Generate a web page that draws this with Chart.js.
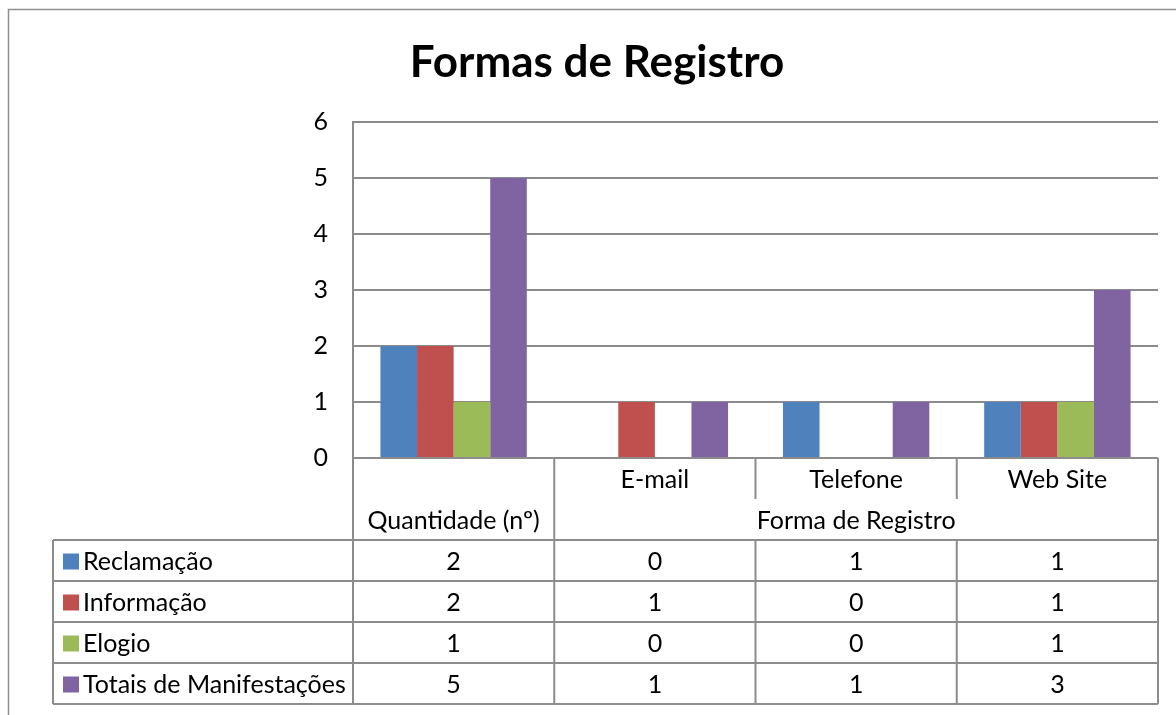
<!DOCTYPE html>
<html>
<head>
<meta charset="utf-8">
<script src="https://cdn.jsdelivr.net/npm/chart.js@4.4.1/dist/chart.umd.min.js"></script>
<style>
  html, body { margin: 0; padding: 0; background: #fff; }
  #wrap { width: 1176px; height: 715px; position: relative; }
</style>
</head>
<body>
<div id="wrap"><canvas id="c" width="1176" height="715"></canvas></div>
<script>
const chartTitle = 'Formas de Registro';
const categories = ['', 'E-mail', 'Telefone', 'Web Site'];
const groupLabels = ['Quantidade (nº)', 'Forma de Registro', 'Forma de Registro', 'Forma de Registro'];
const seriesNames = ['Reclamação', 'Informação', 'Elogio', 'Totais de Manifestações'];
const reclamacao = [2, 0, 1, 1];
const informacao = [2, 1, 0, 1];
const elogio = [1, 0, 0, 1];
const totais = [5, 1, 1, 3];
const yTicks = [0, 1, 2, 3, 4, 5, 6];

const colors = ['#4F81BD', '#C0504D', '#9BBB59', '#8064A2'];
const seriesValues = [reclamacao, informacao, elogio, totais];
const FONT = 'Lato, "Open Sans", sans-serif';
const LINE = '#8c8c8c';

const tablePlugin = {
  id: 'dataTable',
  afterDraw(chart) {
    const ctx = chart.ctx;
    const xs = chart.scales.x;
    const area = chart.chartArea;
    const n = categories.length;
    const catW = (area.right - area.left) / n;
    const colL = i => xs.getPixelForValue(i) - catW / 2;
    const colR = i => xs.getPixelForValue(i) + catW / 2;
    const rowH = 41;
    const y0 = area.bottom;
    const yH1 = y0 + rowH;
    const yH2 = y0 + 2 * rowH;
    const labelLeft = 53;
    const yEnd = yH2 + seriesNames.length * rowH;

    ctx.save();
    // outer frame of the chart object
    ctx.strokeStyle = '#8f8f8f';
    ctx.lineWidth = 1.5;
    ctx.beginPath();
    ctx.moveTo(8.5, 715);
    ctx.lineTo(8.5, 9.5);
    ctx.lineTo(1176, 9.5);
    ctx.stroke();

    // title
    ctx.fillStyle = '#000';
    ctx.font = 'bold 44px ' + FONT;
    ctx.textAlign = 'center';
    ctx.textBaseline = 'alphabetic';
    ctx.fillText(chartTitle, 597, 77);

    ctx.strokeStyle = LINE;
    ctx.lineWidth = 2;
    ctx.beginPath();
    for (let r = 0; r <= seriesNames.length; r++) {
      const y = yH2 + r * rowH;
      ctx.moveTo(labelLeft, y);
      ctx.lineTo(colR(n - 1), y);
    }
    ctx.moveTo(labelLeft, yH2);
    ctx.lineTo(labelLeft, yEnd);
    ctx.moveTo(colL(0), y0);
    ctx.lineTo(colL(0), yEnd);
    ctx.moveTo(colR(n - 1), y0);
    ctx.lineTo(colR(n - 1), yEnd);
    for (let i = 1; i < n; i++) {
      const x = colL(i);
      const groupBreak = groupLabels[i] !== groupLabels[i - 1];
      ctx.moveTo(x, y0);
      ctx.lineTo(x, groupBreak ? yEnd : yH1);
      if (!groupBreak) {
        ctx.moveTo(x, yH2);
        ctx.lineTo(x, yEnd);
      }
    }
    ctx.stroke();

    ctx.fillStyle = '#000';
    ctx.font = '25px ' + FONT;
    ctx.textAlign = 'center';
    ctx.textBaseline = 'middle';
    for (let i = 0; i < n; i++) {
      if (categories[i]) ctx.fillText(categories[i], xs.getPixelForValue(i), y0 + rowH / 2 + 1);
    }
    let s = 0;
    for (let i = 1; i <= n; i++) {
      if (i === n || groupLabels[i] !== groupLabels[s]) {
        const cx = (colL(s) + colR(i - 1)) / 2;
        ctx.fillText(groupLabels[s], cx, yH1 + rowH / 2 + 1);
        s = i;
      }
    }
    for (let r = 0; r < seriesNames.length; r++) {
      const cy = yH2 + r * rowH + rowH / 2 + 1;
      ctx.fillStyle = colors[r];
      ctx.fillRect(63, cy - 8, 16, 16);
      ctx.fillStyle = '#000';
      ctx.textAlign = 'left';
      ctx.fillText(seriesNames[r], 83, cy);
      ctx.textAlign = 'center';
      for (let i = 0; i < n; i++) {
        ctx.fillText(String(seriesValues[r][i]), xs.getPixelForValue(i), cy);
      }
    }
    ctx.restore();
  }
};

new Chart(document.getElementById('c'), {
  type: 'bar',
  data: {
    labels: categories,
    datasets: seriesNames.map((name, k) => ({
      label: name,
      data: seriesValues[k],
      backgroundColor: colors[k],
      borderWidth: 0,
      categoryPercentage: 4 / 5.5,
      barPercentage: 1.0
    }))
  },
  options: {
    responsive: false,
    animation: false,
    devicePixelRatio: 1,
    layout: { padding: { left: 0, top: 122, right: 18, bottom: 257 } },
    plugins: { legend: { display: false }, title: { display: false }, tooltip: { enabled: false } },
    scales: {
      x: { display: false, offset: true },
      y: {
        min: yTicks[0],
        max: yTicks[yTicks.length - 1],
        afterFit(scale) { scale.width = 353; },
        afterBuildTicks(scale) { scale.ticks = yTicks.map(v => ({ value: v })); },
        ticks: { color: '#000', font: { family: FONT, size: 25 }, padding: 25 },
        grid: { color: LINE, lineWidth: 2, drawTicks: false },
        border: { display: true, color: LINE, width: 2 }
      }
    }
  },
  plugins: [tablePlugin]
});
</script>
</body>
</html>
